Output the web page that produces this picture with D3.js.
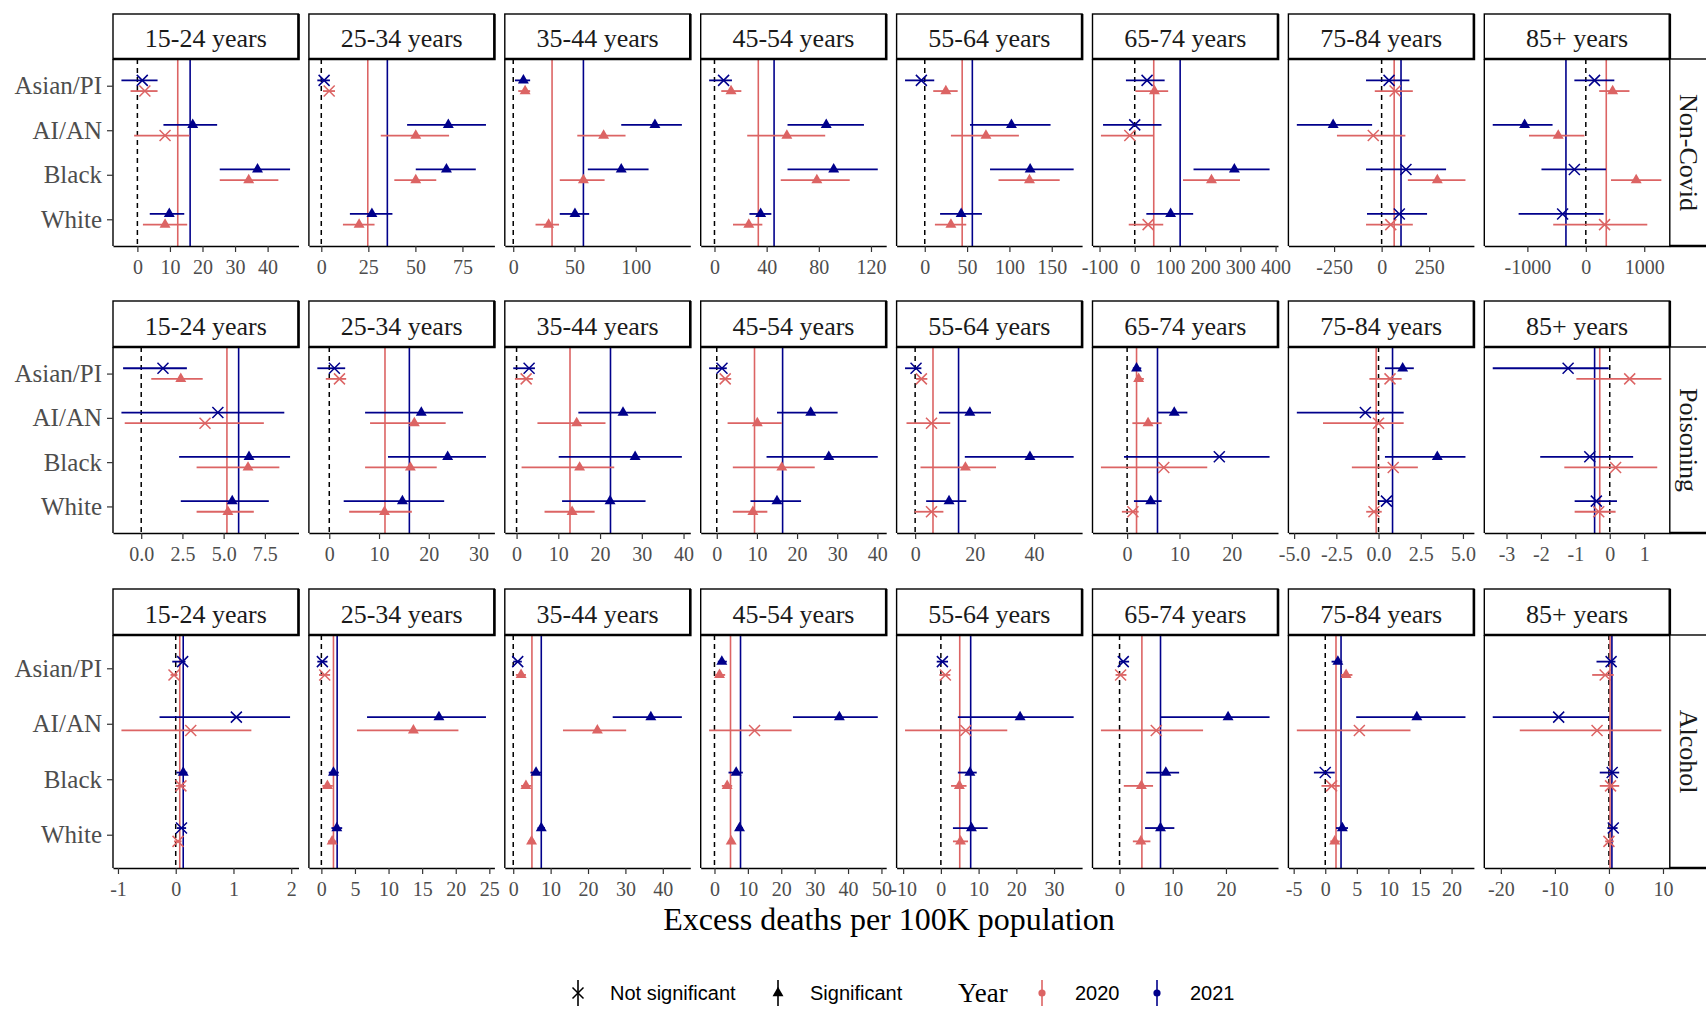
<!DOCTYPE html>
<html>
<head>
<meta charset="utf-8">
<script src="https://cdn.jsdelivr.net/npm/d3@7"></script>
<style>
body { margin: 0; background: #fff; }
</style>
</head>
<body>
<div id="chart"></div>
<script>
// categories
var ages = ["15-24 years", "25-34 years", "35-44 years", "45-54 years",
            "55-64 years", "65-74 years", "75-84 years", "85+ years"];
var races = ["Asian/PI", "AI/AN", "Black", "White"];
var causes = ["Non-Covid", "Poisoning", "Alcohol"];
var years = ["2020", "2021"];
var sigLabels = ["Not significant", "Significant"];

// one line per age group, races in order Asian/PI, AI/AN, Black, White
// each entry: [estimate, lower CI, upper CI, significant]
var nonCovid2020 = [
  [[2.3, -2.1, 6.2, 0], [8.5, -1.0, 16.0, 0], [34.2, 25.3, 43.3, 1], [8.5, 1.7, 15.3, 1]],
  [[4.2, 0.9, 7.3, 0], [50.2, 31.6, 67.9, 1], [50.2, 38.8, 61.1, 1], [20.1, 11.5, 28.3, 1]],
  [[9.7, 4.1, 13.8, 1], [73.8, 52.3, 91.7, 1], [57.3, 38.0, 74.6, 1], [28.9, 18.2, 37.4, 1]],
  [[12.7, 5.2, 20.6, 1], [55.5, 25.1, 84.9, 1], [78.5, 50.8, 103.7, 1], [26.3, 14.2, 36.7, 1]],
  [[24.9, 10.0, 38.9, 1], [72.3, 30.9, 111.2, 1], [123.7, 87.1, 159.4, 1], [30.9, 12.0, 49.0, 1]],
  [[56, 2, 95, 1], [-14, -96, 54, 0], [218, 137, 299, 1], [38, -17, 81, 0]],
  [[71, -36, 164, 0], [-44, -235, 125, 0], [293, 138, 441, 1], [48, -82, 164, 0]],
  [[459, 229, 747, 1], [-472, -972, -24, 1], [862, 431, 1293, 1], [321, -558, 1052, 0]]
];
var nonCovid2021 = [
  [[1.5, -4.9, 6.2, 0], [17.0, 8.0, 24.5, 1], [36.9, 25.3, 46.9, 1], [9.8, 3.8, 14.4, 1]],
  [[1.5, -2.1, 4.6, 0], [67.5, 45.6, 87.5, 1], [66.5, 50.2, 82.1, 1], [26.9, 15.2, 37.8, 1]],
  [[8.3, 1.4, 13.8, 1], [115.7, 88.2, 137.7, 1], [88.2, 60.9, 110.5, 1], [50.4, 38.0, 62.0, 1]],
  [[7.0, -4.1, 13.4, 0], [85.7, 56.0, 114.6, 1], [91.4, 56.0, 125.2, 1], [35.4, 26.8, 43.6, 1]],
  [[-4.0, -23.3, 11.2, 0], [102.4, 53.4, 148.6, 1], [124.5, 77.1, 175.9, 1], [43.0, 18.1, 67.5, 1]],
  [[35, -25, 85, 0], [0, -90, 76, 0], [283, 167, 383, 1], [102, 33, 166, 1]],
  [[39, -82, 146, 0], [-255, -446, -50, 1], [128, -82, 339, 0], [93, -77, 239, 0]],
  [[149, -196, 488, 0], [-1047, -1593, -569, 1], [-196, -759, 345, 0], [-397, -1150, 304, 0]]
];
var poisoning2020 = [
  [[2.40, 0.61, 3.73, 1], [3.87, -1.0, 7.44, 0], [6.48, 3.36, 8.38, 1], [5.26, 3.36, 6.83, 1]],
  [[2.05, -0.7, 3.4, 0], [17.1, 8.2, 23.4, 1], [16.3, 7.2, 21.6, 1], [11.1, 4.0, 16.6, 1]],
  [[2.3, -0.4, 3.9, 0], [14.4, 5.0, 21.3, 1], [15.1, 1.2, 23.4, 1], [13.3, 6.7, 18.7, 1]],
  [[2.1, 0.7, 3.6, 0], [10.1, 2.7, 16.2, 1], [16.2, 4.0, 24.4, 1], [9.0, 4.0, 12.6, 1]],
  [[2.1, 0.3, 4.1, 0], [5.5, -2.9, 11.8, 0], [16.9, 1.8, 27.2, 1], [5.5, -0.2, 9.5, 0]],
  [[2.2, 1.5, 3.2, 1], [4.0, 1.0, 6.6, 1], [7.0, -5.0, 15.3, 0], [1.1, -1.0, 2.2, 0]],
  [[0.68, -0.54, 1.37, 0], [0, -3.29, 1.49, 0], [0.87, -1.58, 2.33, 0], [-0.27, -0.73, 0.19, 0]],
  [[0.58, -0.97, 1.50, 0], null, [0.17, -1.32, 1.38, 0], [-0.32, -1.02, 0.17, 0]]
];
var poisoning2021 = [
  [[1.32, -1.1, 2.77, 0], [4.65, -1.2, 8.68, 0], [6.54, 2.3, 9.03, 1], [5.52, 2.40, 7.74, 1]],
  [[1.03, -2.4, 3.2, 0], [18.5, 7.2, 26.9, 1], [23.8, 11.8, 31.5, 1], [14.7, 2.9, 23.1, 1]],
  [[3.0, -0.8, 4.4, 0], [25.5, 14.8, 33.4, 1], [28.4, 10.1, 39.6, 1], [22.4, 10.9, 30.9, 1]],
  [[1.3, -1.9, 2.5, 0], [23.4, 15.0, 30.1, 1], [27.9, 12.4, 40.1, 1], [15.0, 8.4, 21.0, 1]],
  [[0.3, -3.4, 2.1, 0], [18.4, 8.0, 25.5, 1], [38.6, 16.7, 53.3, 1], [11.4, 3.7, 17.2, 1]],
  [[1.8, 1.1, 2.7, 1], [9.0, 5.8, 11.5, 1], [17.6, -0.6, 27.2, 0], [4.5, 1.3, 6.6, 1]],
  [[1.43, 0.38, 2.09, 1], [-0.78, -4.84, 1.49, 0], [3.48, 0.38, 5.15, 1], [0.47, 0, 0.80, 0]],
  [[-1.21, -3.40, -0.03, 0], null, [-0.58, -2.02, 0.68, 0], [-0.39, -1.02, 0.21, 0]]
];
var alcohol2020 = [
  [[-0.03, -0.09, 0.03, 0], [0.26, -0.94, 1.31, 0], [0.09, 0, 0.17, 0], [0.04, -0.03, 0.10, 0]],
  [[0.5, -0.35, 1.3, 0], [13.7, 5.3, 20.4, 1], [0.9, 0.15, 1.7, 1], [1.6, 1.0, 2.2, 1]],
  [[2.1, 0.7, 3.4, 1], [22.5, 13.3, 30.2, 1], [3.4, 2.1, 4.8, 1], [4.9, 4.0, 5.8, 1]],
  [[1.5, 0.2, 3.2, 1], [12.0, -1.6, 23.1, 0], [3.8, 2.2, 5.3, 1], [5.0, 4.2, 5.9, 1]],
  [[1.2, -0.4, 2.5, 0], [6.6, -9.5, 17.6, 0], [4.9, 2.7, 6.8, 1], [5.2, 3.2, 7.2, 1]],
  [[0.2, -0.75, 1.3, 0], [6.9, -3.5, 15.7, 0], [4.1, 0.8, 6.3, 1], [4.0, 2.5, 5.8, 1]],
  [[3.3, 2.5, 4.3, 1], [5.4, -4.5, 13.5, 0], [1.0, -0.6, 2.3, 0], [1.5, 0.8, 2.3, 1]],
  [[-0.7, -3.1, 0.9, 0], [-2.2, -16.5, 9.7, 0], [0.3, -1.7, 1.9, 0], [0, -0.7, 0.9, 0]]
];
var alcohol2021 = [
  [[0.12, -0.06, 0.17, 0], [1.05, -0.28, 1.98, 0], [0.13, 0.01, 0.2, 1], [0.10, 0.02, 0.18, 0]],
  [[0.15, -0.6, 0.9, 0], [17.5, 6.8, 24.5, 1], [1.8, 1.1, 2.6, 1], [2.3, 1.5, 3.1, 1]],
  [[1.2, 0, 2.3, 0], [36.8, 26.6, 45.1, 1], [6.1, 4.6, 7.5, 1], [7.5, 6.5, 8.5, 1]],
  [[2.2, 1.0, 3.7, 1], [37.4, 23.5, 48.9, 1], [6.5, 4.2, 8.5, 1], [7.5, 6.5, 8.5, 1]],
  [[0.4, -1.1, 1.9, 0], [21.0, 4.5, 35.2, 1], [7.7, 4.5, 9.5, 1], [8.1, 3.2, 12.4, 1]],
  [[0.7, -0.1, 1.8, 0], [20.4, 7.7, 28.2, 1], [8.7, 5.0, 11.2, 1], [7.7, 4.8, 10.3, 1]],
  [[2.0, 1.0, 2.7, 1], [14.5, 4.9, 22.2, 1], [0.0, -1.8, 1.5, 0], [2.7, 1.7, 3.6, 1]],
  [[0.4, -2.3, 1.2, 0], [-9.3, -21.5, 0, 0], [0.6, -1.7, 1.9, 0], [0.8, -0.3, 1.6, 0]]
];

// overall excess per age group (vertical lines)
var nonCovidMean2020 = [12.4, 24.7, 31.7, 33.6, 44.2, 54, 66, 350];
var nonCovidMean2021 = [16.2, 35.1, 57.3, 45.7, 56.2, 129, 102, -340];
var poisoningMean2020 = [5.20, 11.2, 12.8, 9.4, 6.0, 1.8, -0.14, -0.29];
var poisoningMean2021 = [5.91, 16.1, 22.5, 16.4, 14.6, 5.8, 0.83, -0.44];
var alcoholMean2020 = [0.07, 1.8, 5.0, 4.8, 5.0, 4.2, 1.7, 0.2];
var alcoholMean2021 = [0.13, 2.35, 7.5, 7.8, 7.9, 7.7, 2.5, 0.55];

// x tick values per panel
var nonCovidTicks = [[0, 10, 20, 30, 40], [0, 25, 50, 75], [0, 50, 100], [0, 40, 80, 120],
                     [0, 50, 100, 150], [-100, 0, 100, 200, 300, 400], [-250, 0, 250], [-1000, 0, 1000]];
var poisoningTicks = [[0, 2.5, 5, 7.5], [0, 10, 20, 30], [0, 10, 20, 30, 40], [0, 10, 20, 30, 40],
                      [0, 20, 40], [0, 10, 20], [-5, -2.5, 0, 2.5, 5], [-3, -2, -1, 0, 1]];
var alcoholTicks = [[-1, 0, 1, 2], [0, 5, 10, 15, 20, 25], [0, 10, 20, 30, 40], [0, 10, 20, 30, 40, 50],
                    [-10, 0, 10, 20, 30], [0, 10, 20], [-5, 0, 5, 10, 15, 20], [-20, -10, 0, 10]];

var causeData = [
  {est: [nonCovid2020, nonCovid2021], mean: [nonCovidMean2020, nonCovidMean2021], ticks: nonCovidTicks},
  {est: [poisoning2020, poisoning2021], mean: [poisoningMean2020, poisoningMean2021], ticks: poisoningTicks},
  {est: [alcohol2020, alcohol2021], mean: [alcoholMean2020, alcoholMean2021], ticks: alcoholTicks}
];

var yearColor = d3.scaleOrdinal().domain(years).range(["#dc6464", "#00008b"]);
var serif = "'Liberation Serif', 'Times New Roman', serif";
var sans = "'Liberation Sans', Arial, sans-serif";

var W = 1706, H = 1010;
var panelLeft0 = 113, panelPitch = 195.9, panelW = 185.5;
var rowsLayout = [
  {stripTop: 14, top: 59, bottom: 246},
  {stripTop: 301, top: 347, bottom: 533},
  {stripTop: 589, top: 635, bottom: 868}
];

var svg = d3.select("#chart").append("svg")
    .attr("width", W)
    .attr("height", H)
    .style("font-family", serif);

var triangle = d3.symbol(d3.symbolTriangle, 52);

function crossPath(cx, cy, s) {
  return "M" + (cx - s) + "," + (cy - s) + "L" + (cx + s) + "," + (cy + s) +
         "M" + (cx - s) + "," + (cy + s) + "L" + (cx + s) + "," + (cy - s);
}

function fmtTick(ticks) {
  var dec = ticks.some(function(t) { return t % 1 !== 0; });
  return function(v) { return dec ? v.toFixed(1) : String(v); };
}

causes.forEach(function(cause, ci) {
  var L = rowsLayout[ci];
  var cd = causeData[ci];

  ages.forEach(function(age, ai) {
    var left = panelLeft0 + ai * panelPitch;
    var g = svg.append("g");

    // collect values of this panel to set the x range (+5% like ggplot)
    var vals = [0, cd.mean[0][ai], cd.mean[1][ai]];
    var rows = [];
    years.forEach(function(yr, yi) {
      cd.est[yi][ai].forEach(function(d, ri) {
        if (!d) return;
        vals.push(d[1], d[2]);
        rows.push({year: yr, race: races[ri], est: d[0], lo: d[1], hi: d[2], sig: d[3]});
      });
    });
    var ext = d3.extent(vals);
    var pad = (ext[1] - ext[0]) * 0.05;

    var x = d3.scaleLinear().domain([ext[0] - pad, ext[1] + pad]).range([left, left + panelW]);
    var y = d3.scalePoint().domain(races).range([L.top, L.bottom]).padding(0.6);
    var dodge = d3.scaleOrdinal().domain(years).range([0.12, -0.12]);
    function yPos(d) { return y(d.race) + dodge(d.year) * y.step(); }

    // zero line
    g.append("line")
      .attr("x1", x(0)).attr("x2", x(0))
      .attr("y1", L.top).attr("y2", L.bottom)
      .attr("stroke", "#000").attr("stroke-width", 1.5)
      .attr("stroke-dasharray", "5,4");

    // overall lines
    years.forEach(function(yr, yi) {
      g.append("line")
        .attr("x1", x(cd.mean[yi][ai])).attr("x2", x(cd.mean[yi][ai]))
        .attr("y1", L.top).attr("y2", L.bottom)
        .attr("stroke", yearColor(yr)).attr("stroke-width", 1.6);
    });

    // error bars
    g.selectAll(".ci").data(rows).enter().append("line")
      .attr("x1", function(d) { return x(d.lo); })
      .attr("x2", function(d) { return x(d.hi); })
      .attr("y1", yPos)
      .attr("y2", yPos)
      .attr("stroke", function(d) { return yearColor(d.year); })
      .attr("stroke-width", 1.8);

    // points: triangle when significant, cross when not
    g.selectAll(".tri").data(rows.filter(function(d) { return d.sig; })).enter().append("path")
      .attr("d", triangle())
      .attr("transform", function(d) { return "translate(" + x(d.est) + "," + yPos(d) + ")"; })
      .attr("fill", function(d) { return yearColor(d.year); });
    g.selectAll(".cross").data(rows.filter(function(d) { return !d.sig; })).enter().append("path")
      .attr("d", function(d) { return crossPath(x(d.est), yPos(d), 5.5); })
      .attr("fill", "none")
      .attr("stroke", function(d) { return yearColor(d.year); })
      .attr("stroke-width", 1.5);

    // x axis
    var xa = g.append("g")
      .attr("transform", "translate(0," + L.bottom + ")")
      .call(d3.axisBottom(x).tickValues(cd.ticks[ai]).tickFormat(fmtTick(cd.ticks[ai]))
        .tickSize(6).tickSizeOuter(0).tickPadding(8));
    xa.select(".domain").attr("stroke", "#000").attr("stroke-width", 1.4);
    xa.selectAll(".tick line").attr("stroke", "#333").attr("stroke-width", 1.2);
    xa.selectAll(".tick text")
      .attr("fill", "#4d4d4d")
      .style("font-family", serif)
      .style("font-size", "20px");

    // left axis line
    g.append("line")
      .attr("x1", left).attr("x2", left)
      .attr("y1", L.top).attr("y2", L.bottom)
      .attr("stroke", "#000").attr("stroke-width", 1.4);

    if (ai === 0) {
      var ya = g.append("g")
        .attr("transform", "translate(" + left + ",0)")
        .call(d3.axisLeft(y).tickSize(6).tickPadding(5));
      ya.select(".domain").remove();
      ya.selectAll(".tick line").attr("stroke", "#333").attr("stroke-width", 1.2);
      ya.selectAll(".tick text")
        .attr("fill", "#4d4d4d")
        .style("font-family", serif)
        .style("font-size", "25px");
    }

    // strip
    g.append("rect")
      .attr("x", left).attr("y", L.stripTop)
      .attr("width", panelW).attr("height", L.top - L.stripTop)
      .attr("fill", "#fff").attr("stroke", "#000").attr("stroke-width", 1.4);
    g.append("path")
      .attr("d", "M" + (left + panelW) + "," + L.stripTop + "V" + L.top + "H" + left)
      .attr("fill", "none").attr("stroke", "#000").attr("stroke-width", 2.6);
    g.append("text")
      .attr("x", left + panelW / 2).attr("y", L.top - 12)
      .attr("text-anchor", "middle")
      .attr("fill", "#1a1a1a")
      .style("font-size", "26px")
      .text(age);
  });

  // right strip for cause
  var sx = panelLeft0 + 7 * panelPitch + panelW;
  svg.append("rect")
    .attr("x", sx).attr("y", L.top)
    .attr("width", 60).attr("height", L.bottom - L.top)
    .attr("fill", "#fff").attr("stroke", "#000").attr("stroke-width", 1.4);
  svg.append("line")
    .attr("x1", sx).attr("x2", W).attr("y1", L.bottom).attr("y2", L.bottom)
    .attr("stroke", "#000").attr("stroke-width", 2.6);
  svg.append("text")
    .attr("transform", "translate(" + (sx + 19) + "," + ((L.top + L.bottom) / 2) + ") rotate(90)")
    .attr("text-anchor", "middle")
    .attr("dominant-baseline", "central")
    .attr("fill", "#1a1a1a")
    .style("font-size", "26px")
    .text(cause);
});

// x axis title
svg.append("text")
  .attr("x", 889).attr("y", 930)
  .attr("text-anchor", "middle")
  .attr("fill", "#000")
  .style("font-size", "32px")
  .text("Excess deaths per 100K population");

// legend
var lg = svg.append("g");
var legY = 993;
var sigKeyX = [578, 778];
sigLabels.forEach(function(lab, i) {
  var kx = sigKeyX[i];
  lg.append("line").attr("x1", kx).attr("x2", kx).attr("y1", legY - 13).attr("y2", legY + 13)
    .attr("stroke", "#000").attr("stroke-width", 1.6);
  if (i === 0) {
    lg.append("path").attr("d", crossPath(kx, legY, 5.5)).attr("stroke", "#000").attr("stroke-width", 1.5);
  } else {
    lg.append("path").attr("d", triangle())
      .attr("transform", "translate(" + kx + "," + legY + ")").attr("fill", "#000");
  }
  lg.append("text").attr("x", kx + 32).attr("y", legY + 7)
    .style("font-family", sans).style("font-size", "20px").attr("fill", "#000")
    .text(lab);
});
lg.append("text").attr("x", 958).attr("y", legY + 9)
  .style("font-size", "27px").attr("fill", "#000").text("Year");
var yearKeyX = [1042, 1157];
years.forEach(function(yr, i) {
  var kx = yearKeyX[i];
  lg.append("line").attr("x1", kx).attr("x2", kx).attr("y1", legY - 13).attr("y2", legY + 13)
    .attr("stroke", yearColor(yr)).attr("stroke-width", 1.6);
  lg.append("circle").attr("cx", kx).attr("cy", legY).attr("r", 3.6).attr("fill", yearColor(yr));
  lg.append("text").attr("x", kx + 33).attr("y", legY + 7)
    .style("font-family", sans).style("font-size", "20px").attr("fill", "#000")
    .text(yr);
});
</script>
</body>
</html>
